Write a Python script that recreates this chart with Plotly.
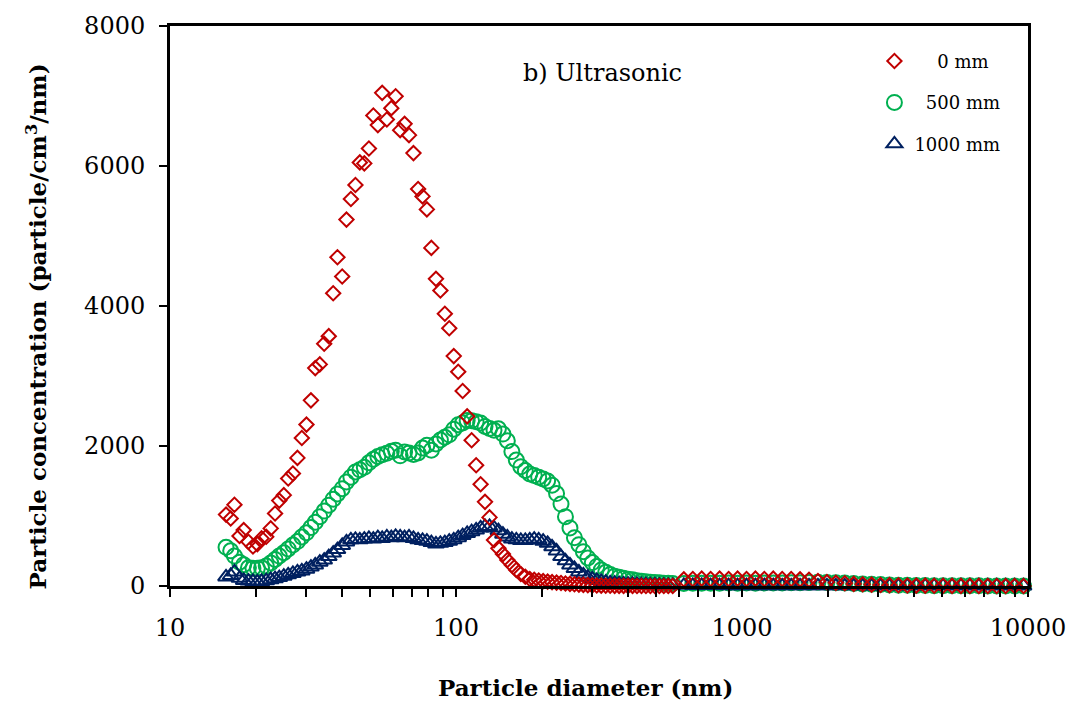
import plotly.graph_objects as go

# SMPS channel diameters (nm)
d_smps = [15.7, 16.3, 16.8, 17.5, 18.1, 18.8, 19.5, 20.2, 20.9, 21.7, 22.5, 23.3, 24.1, 25.0, 25.9,
          26.9, 27.9, 28.9, 30.0, 31.1, 32.2, 33.4, 34.6, 35.9, 37.2, 38.5, 40.0, 41.4, 42.9, 44.5,
          46.1, 47.8, 49.6, 51.4, 53.3, 55.2, 57.3, 59.4, 61.5, 63.8, 66.1, 68.5, 71.0, 73.7, 76.4,
          79.1, 82.0, 85.1, 88.2, 91.4, 94.7, 98.2, 101.8, 105.5, 109.4, 113.4, 117.6, 121.9, 126.3,
          131.0, 135.8, 140.7, 145.9, 151.2, 156.8, 162.5, 168.5, 174.7, 181.1, 187.7, 194.6, 201.7,
          209.1, 216.7, 224.7, 232.9, 241.4, 250.3, 259.5, 269.0, 278.8, 289.0, 299.6, 310.6, 322.0,
          333.8, 346.0, 358.7, 371.8, 385.4, 399.5, 414.2, 429.4, 445.1, 461.4, 478.3, 495.8, 514.0,
          532.8, 552.3, 572.5]
# APS channel diameters (nm)
d_aps = [626, 673, 723, 777, 835, 898, 965, 1037, 1114, 1197, 1286, 1382, 1486, 1596, 1715, 1843,
         1981, 2129, 2288, 2458, 2642, 2839, 3051, 3278, 3523, 3786, 4068, 4371, 4698, 5048, 5425,
         5829, 6264, 6732, 7234, 7774, 8354, 8977, 9647]

# 0 mm
c0_smps = [1020, 965, 1160, 715, 799, 632, 565, 599, 680, 703,
           823, 1036, 1220, 1298, 1536, 1607, 1830, 2115, 2306, 2652,
           3113, 3166, 3461, 3569, 4183, 4697, 4421, 5234, 5529, 5729,
           6051, 6037, 6250, 6721, 6584, 7045, 6664, 6826, 6997, 6512,
           6602, 6441, 6184, 5671, 5566, 5380, 4830, 4388, 4221, 3889,
           3683, 3284, 3061, 2785, 2424, 2082, 1725, 1454, 1202, 980,
           656, 538, 456, 371, 299, 228, 171, 133, 100, 88,
           78, 70, 62, 55, 48, 42, 36, 30, 25, 20,
           16, 12, 9, 7, 5, 4, 3, 2, 2, 1,
           1, 1, 0, 0, 0, 0, 0, 0, 0, 0, 0]
c0_aps = [95, 100, 105, 100, 105, 100, 105, 100, 105, 100, 105, 100, 100, 95, 90, 70, 55, 45, 40,
          30, 25, 20, 15, 12, 10, 8, 6, 5, 4, 3, 2, 2, 1, 1, 0, 0, 0, 0, 0]

# 500 mm
c500_smps = [552, 503, 428, 340, 305, 260, 252, 252, 260, 285,
             330, 380, 428, 475, 530, 585, 635, 700, 760, 835,
             910, 990, 1070, 1155, 1240, 1315, 1390, 1487, 1555, 1630,
             1660, 1695, 1760, 1810, 1850, 1875, 1895, 1925, 1940, 1860,
             1915, 1900, 1880, 1900, 1970, 2010, 1940, 2030, 2085, 2125,
             2160, 2240, 2305, 2330, 2365, 2360, 2345, 2330, 2280, 2250,
             2225, 2245, 2170, 2075, 1920, 1800, 1705, 1650, 1600, 1580,
             1555, 1530, 1500, 1440, 1320, 1170, 990, 830, 690, 590,
             490, 400, 335, 280, 230, 195, 165, 140, 125, 110,
             98, 88, 76, 68, 60, 54, 50, 45, 40, 38, 35]
c500_aps = [35, 38, 40, 38, 40, 42, 40, 42, 40, 42, 44, 42, 45, 46, 50, 52, 50, 46, 42, 36, 30,
            25, 20, 16, 12, 10, 8, 6, 5, 4, 3, 3, 2, 2, 1, 1, 1, 0, 0]

# 1000 mm
c1000_smps = [130, 150, 200, 110, 80, 70, 65, 60, 65, 75,
              90, 105, 120, 140, 160, 180, 200, 215, 240, 270,
              300, 340, 370, 420, 470, 520, 580, 630, 660, 665,
              660, 670, 680, 670, 690, 680, 700, 690, 710, 700,
              690, 700, 680, 660, 650, 640, 620, 600, 610, 620,
              640, 660, 690, 720, 750, 775, 800, 830, 850, 850,
              830, 790, 740, 700, 670, 660, 650, 650, 660, 670,
              660, 640, 610, 560, 500, 420, 360, 300, 250, 200,
              160, 125, 100, 80, 65, 55, 45, 40, 35, 30,
              28, 25, 22, 20, 18, 16, 15, 14, 12, 10, 10]
c1000_aps = [10, 8, 8, 6, 6, 5, 5, 5, 4, 4, 4, 3, 3, 3, 3, 3, 2, 2, 2, 2, 2, 1, 1, 1, 1, 1, 1, 1,
             0, 0, 0, 0, 0, 0, 0, 0, 0, 0, 0]

x_ticks = [10, 100, 1000, 10000]
x_labels = ["10", "100", "1000", "10000"]
y_ticks = [0, 2000, 4000, 6000, 8000]

x_all = d_smps + d_aps
FONT = "DejaVu Serif"

fig = go.Figure()
# drawing order: green, blue, red (red on top)
fig.add_trace(go.Scatter(
    x=x_all, y=c500_smps + c500_aps, mode="markers", name="\u00a0\u00a0500 mm",
    legendrank=2, legendgroup="b",
    marker=dict(symbol="circle-open", size=15, color="#00B050", line=dict(width=2, color="#00B050")),
    cliponaxis=False))
fig.add_trace(go.Scatter(
    x=x_all, y=c1000_smps + c1000_aps, mode="markers", name="1000 mm",
    legendrank=3, legendgroup="c",
    marker=dict(symbol="triangle-up-open", size=14, color="#002060", line=dict(width=2, color="#002060")),
    cliponaxis=False))
fig.add_trace(go.Scatter(
    x=x_all, y=c0_smps + c0_aps, mode="markers", name="\u00a0\u00a0\u00a0\u00a00 mm",
    legendrank=1, legendgroup="a",
    marker=dict(symbol="diamond-open", size=11, color="#C00000", line=dict(width=2, color="#C00000")),
    cliponaxis=False))

minor_vals = [m * 10 ** e for e in range(1, 4) for m in range(2, 10)]

fig.update_layout(
    width=1078, height=704,
    margin=dict(l=170, r=45, t=25, b=118),
    paper_bgcolor="white", plot_bgcolor="white",
    font=dict(family=FONT, color="black", size=24),
    showlegend=True,
    legend=dict(x=0.821, y=0.97, xanchor="left", yanchor="top",
                bgcolor="rgba(0,0,0,0)", font=dict(family=FONT, size=18, color="black"),
                traceorder="grouped", tracegroupgap=15),
    xaxis=dict(type="log", range=[1, 4], showline=True, linewidth=3, linecolor="black", mirror=True,
               ticks="outside", ticklen=8, tickwidth=2, tickcolor="black",
               tickvals=x_ticks, ticktext=x_labels, showgrid=False, zeroline=False,
               tickfont=dict(family=FONT, size=24, color="black"), ticklabelstandoff=10,
               minor=dict(tickvals=minor_vals, ticks="outside", ticklen=8, tickwidth=2,
                          tickcolor="black", showgrid=False)),
    yaxis=dict(range=[0, 8000], tickvals=y_ticks, showline=True, linewidth=3, linecolor="black",
               mirror=True, ticks="outside", ticklen=8, tickwidth=1.5, tickcolor="black",
               showgrid=False, zeroline=False, ticklabelstandoff=9,
               tickfont=dict(family=FONT, size=24, color="black")),
    annotations=[
        dict(text="<b>Particle diameter (nm)</b>", xref="paper", yref="paper", x=0.484, y=-0.182,
             xanchor="center", yanchor="middle", showarrow=False,
             font=dict(family=FONT, size=23, color="black")),
        dict(text="<b>Particle concentration (particle/cm<sup>3</sup>/nm)</b>", xref="paper", yref="paper",
             x=-0.155, y=0.4635, xanchor="center", yanchor="middle", textangle=-90, showarrow=False,
             font=dict(family=FONT, size=23, color="black")),
        dict(text="b) Ultrasonic", xref="paper", yref="paper", x=0.504, y=0.916,
             xanchor="center", yanchor="middle", showarrow=False,
             font=dict(family=FONT, size=24, color="black")),
    ],
)

fig.write_html("out.html")
